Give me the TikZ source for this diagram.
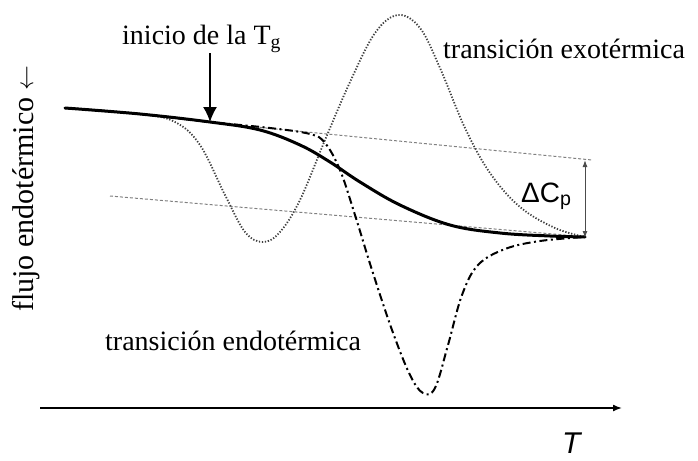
\documentclass[tikz,border=0pt]{standalone}
\usepackage{fontspec}
\setmainfont{Liberation Serif}
\newfontfamily\arialfont{Liberation Sans}
\usetikzlibrary{arrows.meta}

\begin{document}
\begin{tikzpicture}[x=1pt,y=-1pt,
  lbl/.style={font=\fontsize{28}{30}\selectfont,inner sep=0pt,anchor=base west},
  tangent/.style={gray,line width=1pt,dash pattern=on 3pt off 2pt},
  exo/.style={black!75,line width=1.8pt,dash pattern=on 1.3pt off 1.7pt},
  endo/.style={black,line width=2pt,dash pattern=on 8pt off 3.5pt on 2pt off 3.5pt},
  tgline/.style={black,line width=3pt,line cap=round}]
\useasboundingbox (0,0) rectangle (698,460);

% labels
\node[lbl] (tg) at (122,45) {inicio de la T\textsubscript{g}};
\node[lbl] (exolbl) at (443,59) {transición exotérmica};
\node[lbl] (endolbl) at (105,350) {transición endotérmica};
\node[lbl,rotate=90,font=\fontsize{30}{32}\selectfont] (ylbl) at (33,312) {flujo endotérmico $\leftarrow$};
\node[lbl,font=\arialfont\fontsize{28}{30}\selectfont] (dcp) at (521,202) {ΔC\textsubscript{p}};
\node[lbl,font=\arialfont\itshape\fontsize{30}{32}\selectfont] (tlbl) at (562,453) {T};

% end points
\coordinate (onset) at (210,122);
\coordinate (up1) at (205,122);
\coordinate (up2) at (592,160);
\coordinate (lo1) at (110,196);
\coordinate (lo2) at (588,237);
\coordinate (cptop) at (585,160);
\coordinate (cpbot) at (585,238);
\coordinate (ax1) at (40,408);
\coordinate (ax2) at (622,408);

% baselines
\draw[tangent] (up1) -- (up2);
\draw[tangent] (lo1) -- (lo2);

% exothermic transition
\draw[exo] plot[smooth,tension=0.6] coordinates {(65,108) (140,114) (175,122) (200,145) (225,195) (245,232) (263,242) (280,232) (300,200) (325,140) (350,82) (375,33) (398,15) (420,28) (440,68) (465,128) (490,173) (520,207) (555,228) (585,237)};

% endothermic transition
\draw[endo] plot[smooth,tension=0.6] coordinates {(65,108) (140,114) (210,122) (270,128) (310,134) (325,143) (340,170) (355,215) (372,270) (392,330) (410,375) (423,393) (435,388) (448,345) (462,295) (478,265) (505,249) (540,241) (585,237)};

% glass transition
\draw[tgline] plot[smooth,tension=0.6] coordinates {(65,108) (140,114) (210,122) (260,130) (300,145) (330,162) (360,182) (400,205) (450,225) (500,233) (550,236) (585,237)};

% arrows
\draw[-{Latex[length=15pt,width=14pt]},line width=1.5pt] (tg.south -| onset) -- (onset);
\draw[{Latex[length=7pt,width=5pt]}-{Latex[length=7pt,width=5pt]},black!70,line width=1pt] (cptop) -- (cpbot);
\draw[-{Latex[length=9pt,width=7pt]},line width=1.5pt] (ax1) -- (ax2);

\end{tikzpicture}
\end{document}
